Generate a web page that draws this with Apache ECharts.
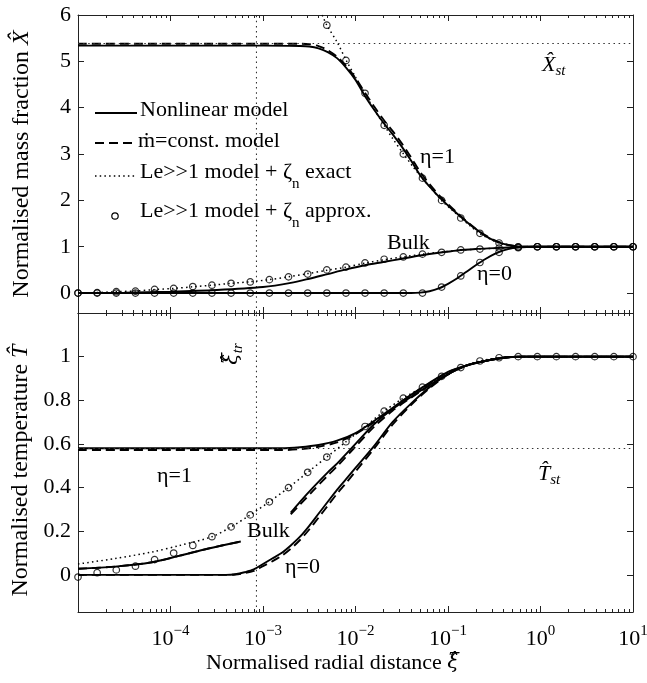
<!DOCTYPE html>
<html><head><meta charset="utf-8">
<script src="https://cdn.jsdelivr.net/npm/echarts@6/dist/echarts.min.js"></script>
<style>html,body{margin:0;padding:0;background:#fff}#c{width:647px;height:683px}</style>
</head><body><div id="c"></div>
<script>
// ---------- data (x given as log10 of the normalised radial distance) ----------
const logXi = [-5.000,-4.793,-4.586,-4.379,-4.172,-3.966,-3.759,-3.552,-3.345,-3.138,-2.931,-2.724,-2.517,-2.310,-2.103,-1.897,-1.690,-1.483,-1.276,-1.069,-0.862,-0.655,-0.448,-0.241,-0.034,0.172,0.379,0.586,0.793,1.000];

// top panel: normalised mass fraction
const topEta1LogX   = [-5,-3,-2.6,-2.5,-2.4,-2.3,-2.2,-2.1,-2.0,-1.9,-1.8,-1.7,-1.6,-1.5,-1.4,-1.3,-1.2,-1.1,-1.0,-0.9,-0.8,-0.7,-0.6,-0.5,-0.4,-0.3,-0.2,0,1];
const topEta1NonY   = [5.34,5.34,5.33,5.32,5.28,5.20,5.07,4.86,4.60,4.26,3.96,3.68,3.43,3.16,2.86,2.54,2.30,2.08,1.89,1.71,1.54,1.38,1.24,1.13,1.06,1.02,1.0,1.0,1.0];
const topEta1ConstY = [5.38,5.38,5.38,5.37,5.33,5.24,5.10,4.90,4.64,4.33,4.03,3.75,3.50,3.23,2.93,2.61,2.35,2.12,1.92,1.73,1.55,1.39,1.25,1.14,1.07,1.02,1.0,1.0,1.0];
const topEta1ExactLogX = [-2.36,-2.31,-2.2,-2.1,-2.0,-1.9,-1.8,-1.69,-1.6,-1.48,-1.38,-1.28,-1.17,-1.07,-0.96,-0.86,-0.76,-0.66,-0.55,-0.45,-0.34,-0.24,1];
const topEta1ExactY    = [6.0,5.78,5.42,5.02,4.66,4.31,3.97,3.62,3.34,3.0,2.73,2.48,2.23,2.0,1.80,1.62,1.45,1.29,1.17,1.08,1.03,1.0,1.0];
const topEta1ApproxY = [null,null,null,null,null,null,null,null,null,null,null,null,null,5.78,5.02,4.31,3.62,3.0,2.48,2.0,1.62,1.29,1.08,1.0,1.0,1.0,1.0,1.0,1.0,1.0];

const topBulkLogX  = [-5,-4.5,-4,-3.5,-3,-2.7,-2.5,-2.3,-2.1,-1.9,-1.7,-1.5,-1.3,-1.1,-0.9,-0.7,-0.5,-0.3,-0.1,1];
const topBulkNonY  = [0,0.01,0.03,0.065,0.13,0.22,0.31,0.41,0.51,0.60,0.67,0.74,0.81,0.87,0.92,0.95,0.97,0.99,1.0,1.0];
const topBulkExactY  = [0.0,0.01,0.03,0.045,0.075,0.10,0.135,0.17,0.21,0.245,0.29,0.35,0.42,0.49,0.56,0.645,0.72,0.78,0.84,0.885,0.925,0.95,0.97,0.99,1,1,1,1,1,1];
const topBulkApproxY = [0.0,0.01,0.03,0.04,0.08,0.10,0.14,0.17,0.21,0.24,0.29,0.35,0.41,0.50,0.56,0.65,0.73,0.78,0.84,0.88,0.93,0.95,0.97,0.99,1,1,1,1,1,1];

const topEta0LogX = [-5,-1.4,-1.3,-1.2,-1.1,-1.0,-0.9,-0.8,-0.7,-0.6,-0.5,-0.4,-0.3,-0.2,-0.1,1];
const topEta0NonY = [0,0,0.01,0.04,0.10,0.20,0.32,0.46,0.60,0.73,0.84,0.92,0.97,0.99,1.0,1.0];
const topEta0ApproxY = [0,0,0,0,0,0,0,0,0,0,0,0,0,0,0,0,0,0,0,0.13,0.37,0.66,0.88,0.98,1,1,1,1,1,1];

const xStValue = 5.38;
const xiTrValue = 8.5e-4;

// bottom panel: normalised temperature
const botEta1LogX   = [-5,-2.8,-2.6,-2.4,-2.2,-2.0,-1.8,-1.6,-1.4,-1.2,-1.0,-0.8,-0.6,-0.4,-0.2,1];
const botEta1NonY   = [0.58,0.58,0.585,0.595,0.615,0.65,0.705,0.765,0.825,0.88,0.93,0.96,0.98,0.995,1.0,1.0];
const botEta1ConstY = [0.572,0.572,0.576,0.587,0.607,0.645,0.70,0.762,0.823,0.878,0.928,0.959,0.98,0.995,1.0,1.0];

const botBulkLogX   = [-5,-4.6,-4.2,-3.9,-3.6,-3.24,-3.0,-2.70,-2.6,-2.46,-2.3,-2.2,-2.0,-1.8,-1.6,-1.4,-1.2,-1.0,-0.8,-0.6,-0.4,-0.2,1];
const botBulkNonY   = [0.028,0.038,0.058,0.088,0.12,0.153,null,0.285,0.335,0.40,0.47,0.51,0.60,0.69,0.76,0.815,0.87,0.92,0.96,0.98,0.995,1.0,1.0];
const botBulkConstY = [0.028,0.038,0.058,0.088,0.12,0.153,null,0.278,0.322,0.385,0.455,0.497,0.588,0.678,0.752,0.812,0.868,0.919,0.959,0.98,0.995,1.0,1.0];

const botEta0LogX   = [-5,-3.4,-3.3,-3.2,-3.1,-3.0,-2.9,-2.8,-2.7,-2.6,-2.5,-2.4,-2.3,-2.2,-2.1,-2.0,-1.8,-1.6,-1.4,-1.2,-1.0,-0.8,-0.6,-0.4,-0.2,1];
const botEta0NonY   = [0,0,0.003,0.012,0.025,0.05,0.075,0.10,0.135,0.175,0.225,0.28,0.335,0.39,0.44,0.49,0.59,0.70,0.785,0.86,0.92,0.96,0.98,0.995,1.0,1.0];
const botEta0ConstY = [0,0,0.002,0.008,0.018,0.04,0.062,0.087,0.12,0.16,0.208,0.262,0.317,0.372,0.422,0.474,0.578,0.688,0.778,0.855,0.918,0.958,0.98,0.995,1.0,1.0];

const botBulkExactLogX = [-5,-4.6,-4.2,-3.9,-3.552,-3.345,-3.138,-2.931,-2.724,-2.517,-2.310,-2.103,-1.897,-1.690,-1.483,-1.276,-1.069,-0.862,-0.655,-0.448,-0.241,1];
const botBulkExactY    = [0.05,0.075,0.105,0.135,0.175,0.22,0.275,0.335,0.40,0.47,0.54,0.61,0.68,0.75,0.81,0.86,0.91,0.95,0.98,0.995,1.0,1.0];
const botApproxY = [-0.01,0.01,0.023,0.04,0.07,0.10,0.135,0.175,0.22,0.275,0.335,0.40,0.47,0.54,0.61,0.68,0.75,0.81,0.86,0.91,0.95,0.98,0.995,1,1,1,1,1,1,1];

const tStValue = 0.578;

// axis ranges and tick values
const topYRange = [-0.43, 6];
const botYRange = [-0.17, 1.2];
const topYTicks = [0,1,2,3,4,5,6];
const botYTicks = [0,0.2,0.4,0.6,0.8,1];
const xLabelExps = [-4,-3,-2,-1,0,1];
const minorMantissas = [2,3,4,5,6,7,8,9];
const decadeStarts = [-5,-4,-3,-2,-1,0];

// ---------- chart ----------
const FONT = '"Liberation Serif", "DejaVu Serif", serif';
const GREEK = '"DejaVu Serif", "Liberation Serif", serif';
const INK = '#000';
const AX = '#222';
const minorExps = [];
decadeStarts.forEach(d => minorMantissas.forEach(m => minorExps.push(d + Math.log10(m))));

function pts(lx, ys) {
  return lx.map((e, i) => [Math.pow(10, e), ys[i] === null ? '-' : ys[i]]);
}
function ptsNoNull(lx, ys) {
  const out = [];
  lx.forEach((e, i) => { if (ys[i] !== null) out.push([Math.pow(10, e), ys[i]]); });
  return out;
}
function lineS(name, data, grid, dash, width) {
  return {
    type: 'line', name: name, data: data,
    xAxisIndex: grid === 0 ? 0 : 1, yAxisIndex: grid === 0 ? 0 : 2,
    showSymbol: false, symbol: 'none', smooth: 0.3, connectNulls: false,
    lineStyle: { color: INK, width: width || 1.9, type: dash || 'solid' },
    emphasis: { disabled: true }, silent: true, z: 3
  };
}
function circS(name, data, grid) {
  return {
    type: 'scatter', name: name, data: data,
    xAxisIndex: grid === 0 ? 0 : 1, yAxisIndex: grid === 0 ? 0 : 2,
    symbol: 'circle', symbolSize: 6.5,
    itemStyle: { color: 'rgba(0,0,0,0)', borderColor: INK, borderWidth: 1.2 },
    emphasis: { disabled: true }, silent: true, z: 4
  };
}
const DASH = [9, 5];
const DOT = [1.5, 3.2];
const refStyle = { color: '#333', width: 1.1, type: [1.5, 3.6] };

function refV(grid, range) {
  return { type: 'line', name: 'xi_tr', xAxisIndex: grid === 0 ? 0 : 1, yAxisIndex: grid === 0 ? 0 : 2,
    data: [[xiTrValue, range[0]], [xiTrValue, range[1]]], showSymbol: false, symbol: 'none',
    lineStyle: refStyle, silent: true, z: 1, emphasis: { disabled: true } };
}

function logAxis(grid) {
  return { type: 'log', gridIndex: grid, position: 'bottom', min: 1e-5, max: 10, logBase: 10,
    axisLine: { show: true, onZero: false, lineStyle: { color: AX, width: 1 } },
    axisTick: { show: false }, axisLabel: { show: false }, splitLine: { show: false } };
}
function tickAxis(grid, pos, minor, withLine, withLabels) {
  const a = { type: 'value', gridIndex: grid, position: pos, min: -5, max: 1,
    axisLine: { show: !!withLine, onZero: false, lineStyle: { color: AX, width: 1 } },
    splitLine: { show: false },
    axisTick: { show: true, inside: true, length: minor ? 3 : 6, lineStyle: { color: AX, width: 1 } },
    axisLabel: { show: false } };
  if (minor) a.axisTick.customValues = minorExps; else a.interval = 1;
  if (withLabels) {
    a.axisLabel = { show: true, customValues: xLabelExps, margin: 12, color: INK,
      formatter: v => '{b|10}{s|' + (v < 0 ? '\u2212' + (-v) : String(v)) + '}',
      rich: { b: { fontSize: 22, fontFamily: FONT, color: INK },
              s: { fontSize: 15, fontFamily: FONT, color: INK, padding: [0, 0, 16, 0] } } };
    a.name = '{a|Normalised radial distance }{b|\u03BE\u0302}';
    a.nameLocation = 'middle';
    a.nameGap = 40;
    a.nameTextStyle = { padding: [0, 46, 0, 0],
      rich: { a: { fontSize: 22, fontFamily: FONT, color: INK },
              b: { fontSize: 21, fontFamily: GREEK, fontStyle: 'italic', color: INK } } };
  }
  return a;
}
function yAxisDef(grid, pos, range, ticks, labels, name, nameGap, namePad) {
  const a = { type: 'value', gridIndex: grid, position: pos, min: range[0], max: range[1],
    axisLine: { show: true, onZero: false, lineStyle: { color: AX, width: 1 } },
    splitLine: { show: false },
    axisTick: { show: true, inside: true, length: 6, customValues: ticks, lineStyle: { color: AX, width: 1 } },
    axisLabel: { show: false } };
  if (labels) {
    a.axisLabel = { show: true, customValues: ticks, margin: 7, color: INK, fontSize: 22, fontFamily: FONT,
      formatter: v => String(v) };
    a.name = name;
    a.nameLocation = 'middle';
    a.nameGap = nameGap;
    a.nameTextStyle = { padding: namePad,
      rich: { a: { fontSize: 24, fontFamily: FONT, color: INK },
              b: { fontSize: 24, fontFamily: FONT, fontStyle: 'italic', color: INK } } };
  }
  return a;
}

const series = [
  // top panel
  refV(0, topYRange),
  Object.assign(lineS('Nonlinear model', pts(topEta1LogX, topEta1NonY), 0), {
    markLine: { silent: true, symbol: ['none', 'none'], label: { show: false }, lineStyle: refStyle,
      data: [{ yAxis: xStValue }] } }),
  lineS('Nonlinear model', pts(topBulkLogX, topBulkNonY), 0),
  lineS('Nonlinear model', pts(topEta0LogX, topEta0NonY), 0),
  lineS('\u1E41=const. model', pts(topEta1LogX, topEta1ConstY), 0, DASH),
  lineS('Le>>1 model + \u03B6n exact', pts(topEta1ExactLogX, topEta1ExactY), 0, DOT, 1.5),
  lineS('Le>>1 model + \u03B6n exact', pts(logXi, topBulkExactY), 0, DOT, 1.5),
  circS('Le>>1 model + \u03B6n approx.', ptsNoNull(logXi, topEta1ApproxY), 0),
  circS('Le>>1 model + \u03B6n approx.', ptsNoNull(logXi, topBulkApproxY), 0),
  circS('Le>>1 model + \u03B6n approx.', ptsNoNull(logXi, topEta0ApproxY), 0),
  // bottom panel
  refV(1, botYRange),
  Object.assign(lineS('Nonlinear model', pts(botEta1LogX, botEta1NonY), 1), {
    markLine: { silent: true, symbol: ['none', 'none'], label: { show: false }, lineStyle: refStyle,
      data: [{ yAxis: tStValue }] } }),
  lineS('Nonlinear model', pts(botBulkLogX, botBulkNonY), 1),
  lineS('Nonlinear model', pts(botEta0LogX, botEta0NonY), 1),
  lineS('\u1E41=const. model', pts(botEta1LogX, botEta1ConstY), 1, DASH),
  lineS('\u1E41=const. model', pts(botBulkLogX, botBulkConstY), 1, DASH),
  lineS('\u1E41=const. model', pts(botEta0LogX, botEta0ConstY), 1, DASH),
  lineS('Le>>1 model + \u03B6n exact', pts(botBulkExactLogX, botBulkExactY), 1, DOT, 1.5),
  circS('Le>>1 model + \u03B6n approx.', ptsNoNull(logXi, botApproxY), 1)
];

const R = { a: { fontSize: 22, fontFamily: FONT, color: INK },
            i: { fontSize: 22, fontFamily: FONT, fontStyle: 'italic', color: INK },
            g: { fontSize: 21, fontFamily: GREEK, fontStyle: 'italic', color: INK },
            s: { fontSize: 15, fontFamily: FONT, color: INK, padding: [24, 0, 0, 0] },
            si: { fontSize: 15, fontFamily: FONT, fontStyle: 'italic', color: INK, padding: [12, 0, 0, 0] } };
function txt(x, y, text, rot) {
  const o = { type: 'text', x: x, y: y, silent: true, z: 10,
    style: { text: text, rich: R, font: '22px ' + FONT, fill: INK, align: 'left', verticalAlign: 'middle' } };
  if (rot) { o.rotation = rot; o.style.align = 'center'; }
  return o;
}

const option = {
  animation: false,
  backgroundColor: '#fff',
  grid: [
    { left: 78, top: 15, width: 555, height: 298, outerBoundsMode: 'none' },
    { left: 78, top: 313, width: 555, height: 299, outerBoundsMode: 'none' }
  ],
  xAxis: [
    logAxis(0), logAxis(1),
    tickAxis(0, 'bottom', false, false), tickAxis(0, 'bottom', true, false),
    tickAxis(0, 'top', false, true), tickAxis(0, 'top', true, false),
    tickAxis(1, 'bottom', false, false, true), tickAxis(1, 'bottom', true, false),
    tickAxis(1, 'top', false, true), tickAxis(1, 'top', true, false)
  ],
  yAxis: [
    yAxisDef(0, 'left', topYRange, topYTicks, true, '{a|Normalised mass fraction }{b|X\u0302}', 44, [0, 0, 0, 0]),
    yAxisDef(0, 'right', topYRange, topYTicks, false),
    yAxisDef(1, 'left', botYRange, botYTicks, true, '{a|Normalised temperature }{b|T\u0302}', 44, [0, 16, 0, 0]),
    yAxisDef(1, 'right', botYRange, botYTicks, false)
  ],
  series: series,
  graphic: [
    // legend
    { type: 'line', silent: true, shape: { x1: 95, y1: 113, x2: 137, y2: 113 }, style: { stroke: INK, lineWidth: 1.9 } },
    { type: 'line', silent: true, shape: { x1: 95, y1: 143, x2: 137, y2: 143 }, style: { stroke: INK, lineWidth: 1.9, lineDash: DASH } },
    { type: 'line', silent: true, shape: { x1: 95, y1: 176, x2: 137, y2: 176 }, style: { stroke: INK, lineWidth: 1.5, lineDash: DOT } },
    { type: 'circle', silent: true, shape: { cx: 115, cy: 216, r: 3.2 }, style: { fill: 'none', stroke: INK, lineWidth: 1.2 } },
    txt(140, 110.5, '{a|Nonlinear model}'),
    txt(138, 141, '{a|\u1E41=const. model}'),
    txt(140, 172.5, '{a|Le>>1 model + \u03B6}{s|n}{a| exact}'),
    txt(140, 211.5, '{a|Le>>1 model + \u03B6}{s|n}{a| approx.}'),
    // annotations, top panel
    txt(420, 157, '{a|\u03B7=1}'),
    txt(387, 243, '{a|Bulk}'),
    txt(477, 274, '{a|\u03B7=0}'),
    txt(542, 65, '{i|X\u0302}{si|st}'),
    // annotations, bottom panel
    txt(157, 476, '{a|\u03B7=1}'),
    txt(247, 531, '{a|Bulk}'),
    txt(285, 567, '{a|\u03B7=0}'),
    txt(538, 474, '{i|T\u0302}{si|st}'),
    txt(232, 354, '{g|\u03BE\u0302}{si|tr}', Math.PI / 2)
  ]
};

const chart = echarts.init(document.getElementById('c'), null, { renderer: 'canvas' });
chart.setOption(option);
</script>
</body></html>
